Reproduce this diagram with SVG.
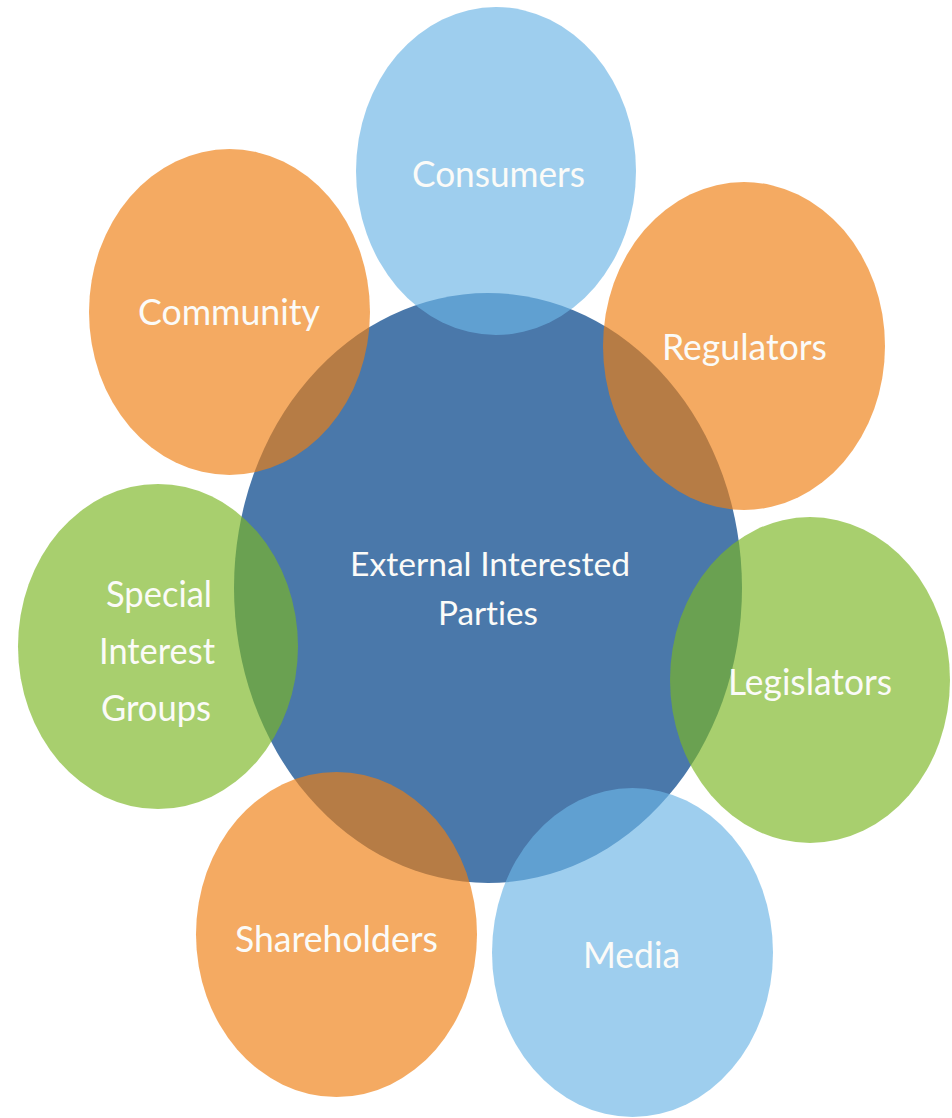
<svg xmlns="http://www.w3.org/2000/svg" width="952" height="1118" viewBox="0 0 952 1118">
  <style>
    .lbl { font-family: Lato, "Open Sans", "Liberation Sans", sans-serif; fill: #fbfbf8; text-anchor: middle; font-variant-ligatures: none; font-feature-settings: "liga" 0, "clig" 0; }
    .outer { font-size: 37px; }
    .inner { font-size: 33px; }
    .core { fill: #4a78aa; }
    .blue { fill: #6cb5e5; fill-opacity: 0.66; }
    .orange { fill: #ee7e11; fill-opacity: 0.66; }
    .green { fill: #7bb623; fill-opacity: 0.66; }
  </style>
  <rect width="952" height="1118" fill="#ffffff"/>
  <g id="connectors"/>
  <g id="node-external">
    <ellipse class="core" cx="488" cy="588" rx="254" ry="295"/>
    <text class="lbl inner" x="490" y="576" textLength="280" lengthAdjust="spacingAndGlyphs">External Interested</text>
    <text class="lbl inner" x="488" y="625" textLength="100" lengthAdjust="spacingAndGlyphs">Parties</text>
  </g>
  <g id="node-consumers">
    <ellipse class="blue" cx="496" cy="171" rx="140" ry="164"/>
    <text class="lbl outer" x="498.5" y="187" textLength="173" lengthAdjust="spacingAndGlyphs">Consumers</text>
  </g>
  <g id="node-regulators">
    <ellipse class="orange" cx="744" cy="346" rx="141" ry="164"/>
    <text class="lbl outer" x="744.5" y="360" textLength="165" lengthAdjust="spacingAndGlyphs">Regulators</text>
  </g>
  <g id="node-community">
    <ellipse class="orange" cx="229.5" cy="312" rx="140.5" ry="163"/>
    <text class="lbl outer" x="229" y="325" textLength="182" lengthAdjust="spacingAndGlyphs">Community</text>
  </g>
  <g id="node-special-interest-groups">
    <ellipse class="green" cx="158" cy="646.5" rx="140" ry="162.5"/>
    <text class="lbl outer" x="159" y="607" textLength="106" lengthAdjust="spacingAndGlyphs">Special</text>
    <text class="lbl outer" x="157" y="664" textLength="116" lengthAdjust="spacingAndGlyphs">Interest</text>
    <text class="lbl outer" x="156" y="721" textLength="110" lengthAdjust="spacingAndGlyphs">Groups</text>
  </g>
  <g id="node-legislators">
    <ellipse class="green" cx="810" cy="680" rx="140" ry="163"/>
    <text class="lbl outer" x="810" y="695" textLength="164" lengthAdjust="spacingAndGlyphs">Legislators</text>
  </g>
  <g id="node-shareholders">
    <ellipse class="orange" cx="336.5" cy="934.5" rx="140.5" ry="162.5"/>
    <text class="lbl outer" x="336.5" y="952" textLength="203" lengthAdjust="spacingAndGlyphs">Shareholders</text>
  </g>
  <g id="node-media">
    <ellipse class="blue" cx="632.5" cy="952.5" rx="140.5" ry="164.5"/>
    <text class="lbl outer" x="631.5" y="968" textLength="97" lengthAdjust="spacingAndGlyphs">Media</text>
  </g>
</svg>
